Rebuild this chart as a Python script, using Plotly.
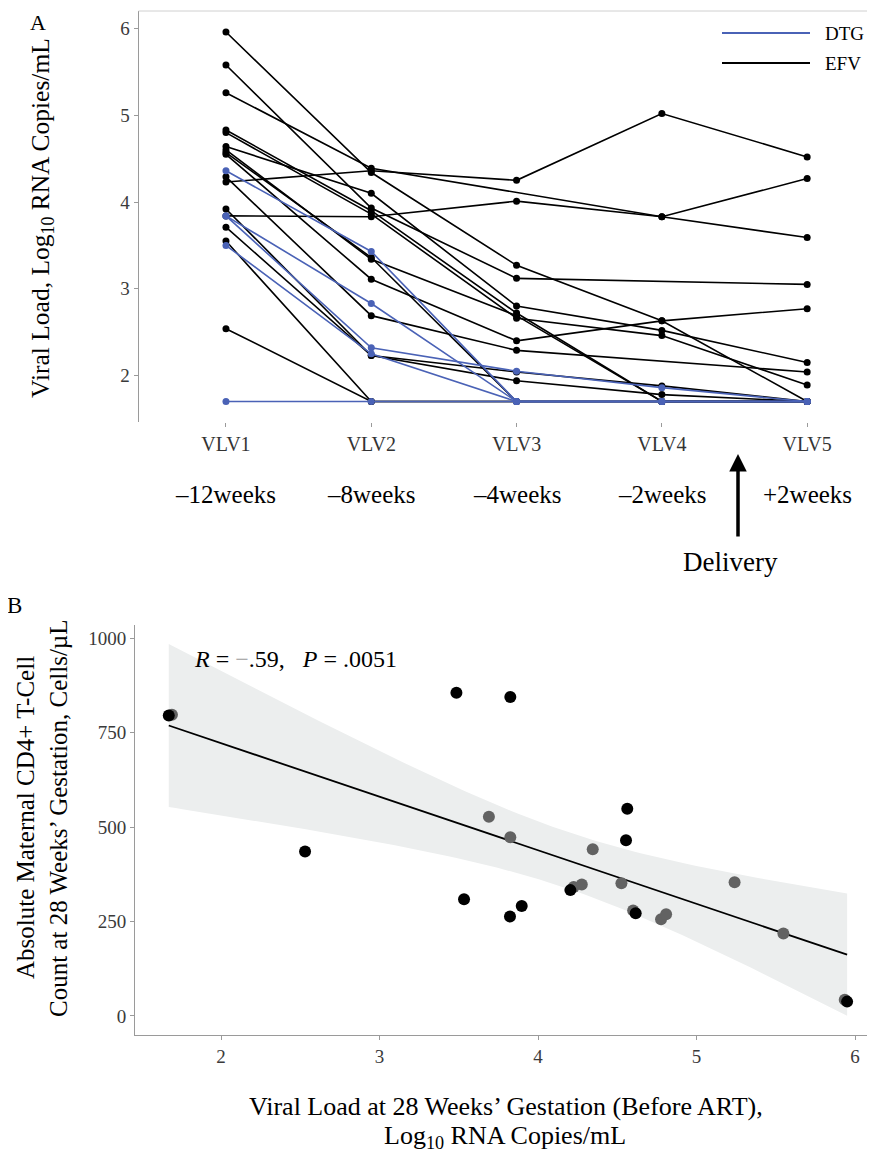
import numpy as np
import plotly.graph_objects as go

W, H = 875, 1154
OFF = 8  # default page margin around the plot div
FONT = "Liberation Serif"
BLUE = "#4A62B6"
GRAY_PT = "#626262"
AXC = "#9a9a9a"

# ---------------- Panel A data ----------------
visits = ["VLV1", "VLV2", "VLV3", "VLV4", "VLV5"]
weeks = ["–12weeks", "–8weeks", "–4weeks", "–2weeks", "+2weeks"]

efv_subjects = [
    [5.96, 4.34, 3.27, 2.63, 1.70],
    [5.26, 4.39, None, 3.83, 3.59],
    [4.23, 4.36, 4.25, 5.02, 4.52],
    [5.58, 3.93, 3.12, None, 3.05],
    [3.84, 3.83, 4.01, 3.83, 4.27],
    [4.64, 4.10, 2.80, 2.52, 2.15],
    [4.83, 3.90, 2.72, 1.70, 1.70],
    [4.80, 3.86, 2.66, 2.46, 1.89],
    [4.60, 3.34, 2.69, 1.70, 1.70],
    [4.55, 3.11, 2.40, 2.63, 2.77],
    [4.29, 2.69, 2.29, None, 2.04],
    [3.92, 2.23, 2.04, 1.88, 1.70],
    [3.71, 2.23, 1.94, 1.78, 1.70],
    [3.55, 1.70, 1.70, 1.70, 1.70],
    [2.54, 1.70, 1.70, 1.70, 1.70],
    [4.57, 3.36, 1.70, 1.70, 1.70],
]
dtg_subjects = [
    [4.36, 3.43, 1.70, 1.70, 1.70],
    [3.84, 2.83, 1.70, 1.70, 1.70],
    [3.84, 2.32, 2.05, 1.86, 1.70],
    [3.50, 2.25, 1.70, 1.70, 1.70],
    [1.70, 1.70, 1.70, 1.70, 1.70],
]

# ---------------- Panel B data ----------------
vl28 = [1.67, 2.53, 3.485, 3.533, 3.69, 3.823, 3.825, 3.825, 3.897, 4.204, 4.276,
        4.345, 4.526, 4.555, 4.563, 4.616, 4.776, 4.808, 5.24, 5.548, 5.95]
cd4 = [795, 435, 855, 309, 527, 263, 844, 473, 291, 333, 348,
       441, 351, 465, 548, 272, 256, 269, 354, 218, 38]
pt_shade = ["k", "k", "k", "k", "g", "k", "k", "g", "k", "k", "g",
            "g", "g", "k", "k", "k", "g", "g", "g", "g", "k"]
# grey points partly hidden behind black ones
shadow_vl = [1.69, 4.225, 4.60, 5.935]
shadow_cd4 = [797, 341, 279, 43]

# ---------------- layout helpers ----------------
def px_x(p):
    return (p - OFF) / W

def px_y(p):
    return 1 - (p - OFF) / H

xA0, xA1 = 138.5, 883
yA0, yA1 = 11, 422
xB0, xB1 = 135, 875
yB0, yB1 = 625, 1035

fig = go.Figure()

x_idx = list(range(1, 6))
for s in efv_subjects:
    fig.add_trace(go.Scatter(x=x_idx, y=s, mode="lines+markers", connectgaps=True,
                             line=dict(color="black", width=1.6),
                             marker=dict(color="black", size=7),
                             showlegend=False, xaxis="x", yaxis="y"))
for s in dtg_subjects:
    fig.add_trace(go.Scatter(x=x_idx, y=s, mode="lines+markers", connectgaps=True,
                             line=dict(color=BLUE, width=1.6),
                             marker=dict(color=BLUE, size=7),
                             showlegend=False, xaxis="x", yaxis="y"))

# regression with 95% CI (like geom_smooth(method = "lm"))
xa = np.array(vl28, float)
ya = np.array(cd4, float)
n = len(xa)
b1, b0 = np.polyfit(xa, ya, 1)
res = ya - (b0 + b1 * xa)
s = np.sqrt(np.sum(res ** 2) / (n - 2))
sxx = np.sum((xa - xa.mean()) ** 2)
tq = 2.093  # t(0.975, df=19)
xg = np.linspace(xa.min(), xa.max(), 100)
yg = b0 + b1 * xg
se = s * np.sqrt(1 / n + (xg - xa.mean()) ** 2 / sxx)
up, lo = yg + tq * se, yg - tq * se

fig.add_trace(go.Scatter(x=np.concatenate([xg, xg[::-1]]), y=np.concatenate([up, lo[::-1]]),
                         fill="toself", fillcolor="#ECEEEE", line=dict(width=0),
                         mode="lines", hoverinfo="skip", showlegend=False,
                         xaxis="x2", yaxis="y2"))
fig.add_trace(go.Scatter(x=shadow_vl, y=shadow_cd4, mode="markers",
                         marker=dict(color=GRAY_PT, size=12), showlegend=False,
                         xaxis="x2", yaxis="y2"))
fig.add_trace(go.Scatter(x=xg, y=yg, mode="lines", line=dict(color="black", width=1.8),
                         showlegend=False, xaxis="x2", yaxis="y2"))
fig.add_trace(go.Scatter(x=[v for v, c in zip(vl28, pt_shade) if c == "g"],
                         y=[v for v, c in zip(cd4, pt_shade) if c == "g"], mode="markers",
                         marker=dict(color=GRAY_PT, size=12), showlegend=False,
                         xaxis="x2", yaxis="y2"))
fig.add_trace(go.Scatter(x=[v for v, c in zip(vl28, pt_shade) if c == "k"],
                         y=[v for v, c in zip(cd4, pt_shade) if c == "k"], mode="markers",
                         marker=dict(color="black", size=12), showlegend=False,
                         xaxis="x2", yaxis="y2"))

tickfont = dict(family=FONT, size=19, color="#3a3a3a")
ax_common = dict(showgrid=False, zeroline=False, showline=True, linecolor=AXC, linewidth=1,
                 ticks="outside", ticklen=4, tickcolor=AXC, tickfont=tickfont)

fig.update_layout(
    width=W, height=H, margin=dict(l=0, r=0, t=0, b=0),
    paper_bgcolor="white", plot_bgcolor="white",
    font=dict(family=FONT, color="black"),
    xaxis=dict(domain=[px_x(xA0), min(1, px_x(xA1))], range=[0.398, 5.522], tickvals=x_idx,
               ticktext=visits, anchor="y",
               **{**ax_common, "showline": False, "tickfont": dict(family=FONT, size=20, color="#333")}),
    yaxis=dict(domain=[px_y(yA1), px_y(yA0)], range=[1.464, 6.202], tickvals=[2, 3, 4, 5, 6],
               anchor="x", **ax_common),
    xaxis2=dict(domain=[px_x(xB0), min(1, px_x(xB1))], range=[1.457, 6.126],
                tickvals=[2, 3, 4, 5, 6], anchor="y2", **ax_common),
    yaxis2=dict(domain=[px_y(yB1), px_y(yB0)], range=[-50.3, 1034.4],
                tickvals=[0, 250, 500, 750, 1000], anchor="x2", **ax_common),
)

# top border of panel A
fig.add_shape(type="line", xref="paper", yref="paper", x0=px_x(xA0), x1=1,
              y0=px_y(yA0), y1=px_y(yA0), line=dict(color="#d0d0d0", width=1))

ann = []


def txt(text, x, y, size, angle=0, xanchor="center", xref="paper"):
    xx = px_x(x) if xref == "paper" else x
    ann.append(dict(text=text, x=xx, y=px_y(y), xref=xref, yref="paper", textangle=angle,
                    xanchor=xanchor, yanchor="middle", showarrow=False,
                    font=dict(size=size, family=FONT, color="black")))


# panel letters
txt("A", 38, 22, 22)
txt("B", 14, 605, 23)
# axis titles
txt("Viral Load, Log<sub>10</sub> RNA Copies/mL", 42, 218, 25.5, angle=-90)
txt("Absolute Maternal CD4+ T-Cell", 25, 818, 25, angle=-90)
txt("Count at 28 Weeks’ Gestation, Cells/µL", 58, 818, 25, angle=-90)
txt("Viral Load at 28 Weeks’ Gestation (Before ART),", 506, 1106, 26)
txt("Log<sub>10</sub> RNA Copies/mL", 505, 1137, 26)
# week labels
for i, wk in enumerate(weeks):
    txt(wk, i + 1, 494, 25, xref="x")
# delivery arrow
ann.append(dict(text="", x=px_x(738), y=px_y(454), xref="paper", yref="paper",
                showarrow=True, ax=0, ay=84, arrowhead=2, arrowsize=1, arrowwidth=3.5,
                arrowcolor="black"))
txt("Delivery", 730, 562, 27)
# stats
txt("<i>R</i> = <span style='color:#9a9a9a'>−</span>.59,   <i>P</i> = .0051", 192, 659, 24,
    xanchor="left")
# legend (drawn manually)
for lab, col, yy in [("DTG", BLUE, 33), ("EFV", "black", 63)]:
    fig.add_shape(type="line", xref="paper", yref="paper", x0=px_x(722), x1=px_x(810),
                  y0=px_y(yy), y1=px_y(yy), line=dict(color=col, width=2.2))
    txt(lab, 823, yy, 19, xanchor="left")

fig.update_layout(annotations=ann)
fig.write_html("out.html")
